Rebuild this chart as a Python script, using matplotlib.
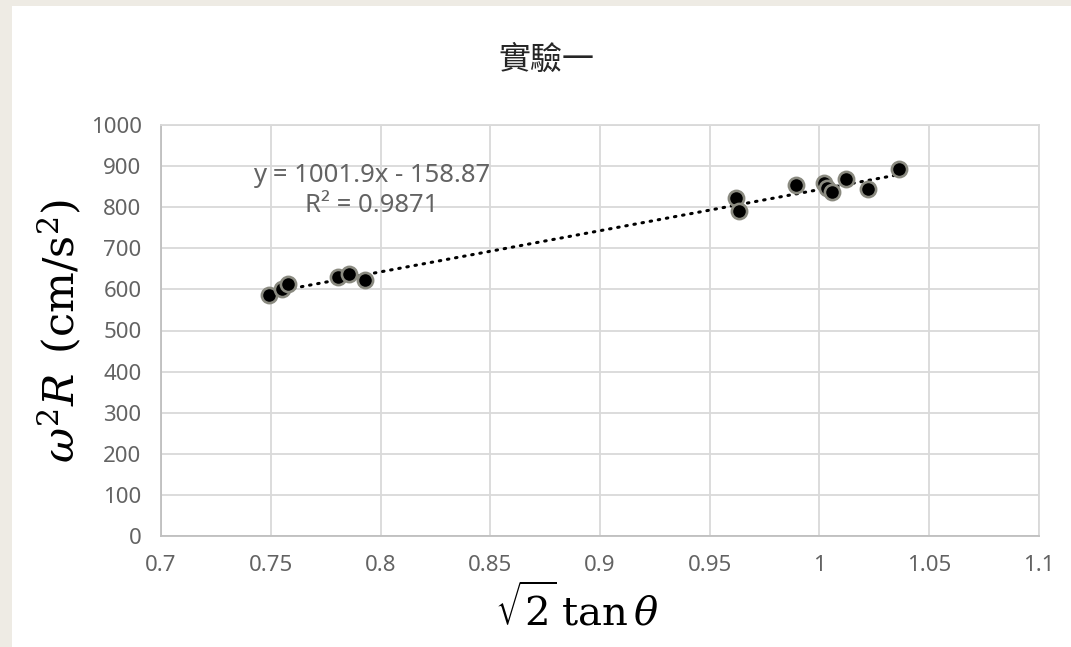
import matplotlib.pyplot as plt
import matplotlib.patches as patches
import numpy as np

plt.rcParams['font.family'] = ['Noto Sans', 'Noto Sans CJK TC', 'DejaVu Sans']
plt.rcParams['mathtext.fontset'] = 'dejavuserif'

# data
x = [0.7492, 0.7551, 0.7579, 0.7806, 0.7856, 0.7929, 0.9620, 0.9634,
     0.9893, 1.0021, 1.0033, 1.0057, 1.0119, 1.0222, 1.0362]
y = [586, 601, 613, 630, 637, 623, 822, 791,
     853, 858, 846, 838, 869, 844, 893]
slope = 1001.9
intercept = -158.87
xticks = [0.7, 0.75, 0.8, 0.85, 0.9, 0.95, 1, 1.05, 1.1]
xticklabels = ['0.7', '0.75', '0.8', '0.85', '0.9', '0.95', '1', '1.05', '1.1']
yticks = list(range(0, 1001, 100))

fig = plt.figure(figsize=(10.71, 6.47), dpi=100)
fig.patch.set_facecolor('#EEEBE4')
# white chart area
fig.patches.append(patches.Rectangle((12 / 1071, 0), 1, 1 - 6 / 647,
                                     transform=fig.transFigure,
                                     facecolor='white', edgecolor='none', zorder=-10))

ax = fig.add_axes([161 / 1071, 1 - 536 / 647, 878 / 1071, 411 / 647])
ax.set_facecolor('white')

# trendline
xl = np.array([min(x), max(x)])
ax.plot(xl, slope * xl + intercept, color='black', linewidth=2.2,
        linestyle=(0, (0.5, 2.2)), dash_capstyle='round', zorder=2)

ax.scatter(x, y, s=120, facecolor='black', edgecolor='#8a8a80',
           linewidth=1.9, zorder=3)

ax.set_xlim(0.7, 1.1)
ax.set_ylim(0, 1000)
ax.set_xticks(xticks)
ax.set_xticklabels(xticklabels)
ax.set_yticks(yticks)
ax.grid(True, color='#D9D9D9', linewidth=1.3)
ax.set_axisbelow(True)
for s in ['top', 'right']:
    ax.spines[s].set_color('#D9D9D9')
    ax.spines[s].set_linewidth(1.3)
for s in ['left', 'bottom']:
    ax.spines[s].set_color('#BFBFBF')
    ax.spines[s].set_linewidth(1.3)
ax.tick_params(length=0, labelsize=16, labelcolor='#636363', pad=14)

fig.text(546 / 1071, 1 - 60 / 647, '實驗一', fontsize=23, color='#262626',
         ha='center', va='center', family=['Noto Sans CJK TC', 'DejaVu Sans'])

ax.set_xlabel(r'$\sqrt{2}\,\mathrm{tan}\,\theta$', fontsize=29, color='black')
ax.xaxis.set_label_coords((577 - 161) / 878, -(611 - 536) / 411)
ax.xaxis.label.set_va('center')
ax.set_ylabel(r'$\omega^2R\ \,(\mathrm{cm/s^2})$', fontsize=31, color='black')
ax.yaxis.set_label_coords((62 - 161) / 878, 0.5)
ax.yaxis.label.set_va('center')

ax.text(0.7961, 876, 'y = 1001.9x - 158.87', fontsize=18.5, color='#636363',
        ha='center', va='center')
ax.text(0.7961, 805, 'R² = 0.9871', fontsize=18.5, color='#636363',
        ha='center', va='center')

fig.savefig('out.png', dpi=100, facecolor=fig.get_facecolor())
